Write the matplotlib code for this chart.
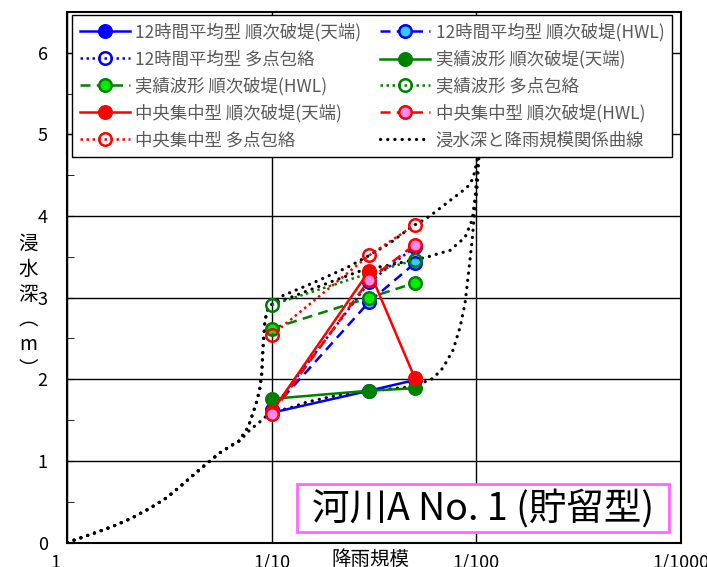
import matplotlib
matplotlib.use('Agg')
import matplotlib.pyplot as plt
import matplotlib.transforms as mtransforms
from matplotlib.patches import Rectangle
from matplotlib.ticker import MultipleLocator, NullLocator

plt.rcParams['font.family'] = ['Noto Sans CJK JP', 'DejaVu Sans']

# %% data
# rainfall scale as return period (years): 1/10, 1/30, 1/50
T = [10, 30, 50]

avg12_crest = [1.59, 1.86, 1.99]   # 12時間平均型 順次破堤(天端)
avg12_hwl = [1.62, 2.95, 3.42]     # 12時間平均型 順次破堤(HWL)
avg12_multi = [1.62, 3.19, 3.62]   # 12時間平均型 多点包絡
obs_crest = [1.76, 1.86, 1.89]     # 実績波形 順次破堤(天端)
obs_hwl = [2.62, 3.00, 3.18]       # 実績波形 順次破堤(HWL)
obs_multi = [2.91, 3.30, 3.46]     # 実績波形 多点包絡
cen_crest = [1.60, 3.33, 2.02]     # 中央集中型 順次破堤(天端)
cen_hwl = [1.58, 3.22, 3.65]       # 中央集中型 順次破堤(HWL)
cen_multi = [2.54, 3.52, 3.89]     # 中央集中型 多点包絡

# depth / rainfall scale relation curves
base_T = [1.0, 1.34, 1.68, 2.07, 2.54, 3.07, 3.70, 4.38, 4.99, 5.59, 6.37, 7.0]
base_d = [0.0, 0.11, 0.20, 0.30, 0.42, 0.55, 0.72, 0.88, 1.00, 1.10, 1.19, 1.25]
steep_T = [7.24, 7.66, 8.11, 8.48, 8.77, 8.94, 9.07, 9.27, 9.59, 10.15]
steep_d = [1.32, 1.41, 1.59, 1.74, 1.90, 2.07, 2.39, 2.72, 2.87, 2.93]
upper_T = [10.98, 15.9, 23.4, 29.6, 37.9, 49.1, 56.2, 61.5, 74.5, 90.2, 96.5, 101, 103]
upper_d = [3.01, 3.18, 3.37, 3.51, 3.67, 3.88, 3.96, 4.03, 4.19, 4.35, 4.46, 4.68, 4.90]
middle_T = [12.3, 13.8, 19.3, 28.0, 37.9, 49.1, 58.1, 61.5, 74.5, 88.2, 95.5, 98.8, 101, 102]
middle_d = [3.00, 3.05, 3.19, 3.34, 3.40, 3.46, 3.50, 3.52, 3.58, 3.74, 3.95, 4.23, 4.56, 4.85]
lower_T = [7.83, 8.77, 9.81, 11.0, 12.7, 14.8, 21.6, 31.3, 49.1, 61.5, 68.8, 77.1,
           83.4, 88.2, 91.2, 95.5, 97.7, 101, 103, 104.5]
lower_d = [1.38, 1.48, 1.59, 1.62, 1.66, 1.72, 1.81, 1.86, 1.91, 2.01, 2.14, 2.36,
           2.64, 2.93, 3.25, 3.70, 3.98, 4.35, 4.71, 5.00]

x_ticks = [1, 10, 100, 1000]
x_ticklabels = ['1', '1/10', '1/100', '1/1000']

# %% plot
fig = plt.figure(figsize=(7.07, 5.67), dpi=100)
ax = fig.add_axes([67.2 / 707, 24.5 / 567, 613.5 / 707, 530.5 / 567])

dash = (0, (4, 2.5))
dot = (0, (1, 1.4))
series = [
    (avg12_crest, 'blue', '-', 'blue', '12時間平均型 順次破堤(天端)'),
    (avg12_hwl, 'blue', dash, '#33ccff', '12時間平均型 順次破堤(HWL)'),
    (avg12_multi, 'blue', dot, 'none', '12時間平均型 多点包絡'),
    (obs_crest, 'green', '-', 'green', '実績波形 順次破堤(天端)'),
    (obs_hwl, 'green', dash, '#00ee00', '実績波形 順次破堤(HWL)'),
    (obs_multi, 'green', dot, 'none', '実績波形 多点包絡'),
    (cen_crest, 'red', '-', 'red', '中央集中型 順次破堤(天端)'),
    (cen_hwl, 'red', dash, '#ff88ee', '中央集中型 順次破堤(HWL)'),
    (cen_multi, 'red', dot, 'none', '中央集中型 多点包絡'),
]

handles = []
for vals, c, ls, fc, lab in series:
    h, = ax.plot(T, vals, color=c, linestyle=ls, lw=1.8, marker='o', ms=9,
                 mfc=fc, mec=c, mew=1.8, label=lab, zorder=3)
    handles.append(h)

curve_style = dict(color='black', lw=2.3, linestyle=(0, (0.05, 2.2)),
                   dash_capstyle='round', zorder=2)
h, = ax.plot(base_T + steep_T + upper_T, base_d + steep_d + upper_d,
             label='浸水深と降雨規模関係曲線', **curve_style)
ax.plot(base_T + steep_T + middle_T, base_d + steep_d + middle_d, **curve_style)
ax.plot(base_T + lower_T, base_d + lower_d, **curve_style)
handles.append(h)

ax.set_xscale('log')
ax.set_xlim(1, 1000)
ax.set_ylim(0, 6.5)
ax.set_xticks(x_ticks, x_ticklabels)
ax.xaxis.set_minor_locator(NullLocator())
ax.yaxis.set_major_locator(MultipleLocator(1))
ax.yaxis.set_minor_locator(MultipleLocator(0.5))
ax.tick_params(axis='x', length=0, pad=8, labelsize=13)
ax.tick_params(axis='y', which='both', direction='in', length=5, pad=14, labelsize=13)
ax.grid(True, which='major', color='black', lw=1.0)
for s in ax.spines.values():
    s.set_linewidth(1.5)

# the "1" label sits a little left of the axis corner
lab0 = ax.get_xticklabels()[0]
lab0.set_transform(lab0.get_transform() +
                   mtransforms.ScaledTranslation(-12 / 100, 0, fig.dpi_scale_trans))

# legend filled row by row
order = [0, 2, 4, 6, 8, 1, 3, 5, 7, 9]
leg = ax.legend([handles[i] for i in order], [handles[i].get_label() for i in order],
                ncol=2, loc='upper left', bbox_to_anchor=(0.008, 0.9943, 0.978, 0.0),
                mode='expand', borderaxespad=0, fontsize=12.5, handlelength=2.9,
                labelspacing=0.5, handletextpad=0.3, borderpad=0.45, fancybox=False,
                framealpha=1, edgecolor='black')
leg.get_frame().set_linewidth(1.0)
for t in leg.get_texts():
    t.set_color('#595959')

# river name box
ax.add_patch(Rectangle((0.3746, 0.0198), 0.6064, 0.0905, transform=ax.transAxes,
                       facecolor='white', edgecolor='#ff66ff', lw=2, zorder=4))
ax.text(0.6778, 0.063, '河川A No. 1 (貯留型)', transform=ax.transAxes,
        ha='center', va='center', fontsize=27, zorder=5)

fig.text(370 / 707, 1 - 559 / 567, '降雨規模', ha='center', va='center', fontsize=14)
fig.text(28 / 707, 1 - 307 / 567, '浸\n水\n深\n︵\nm\n︶', ha='center', va='center',
         fontsize=14, linespacing=1.25)

fig.savefig('out.png', dpi=100)
